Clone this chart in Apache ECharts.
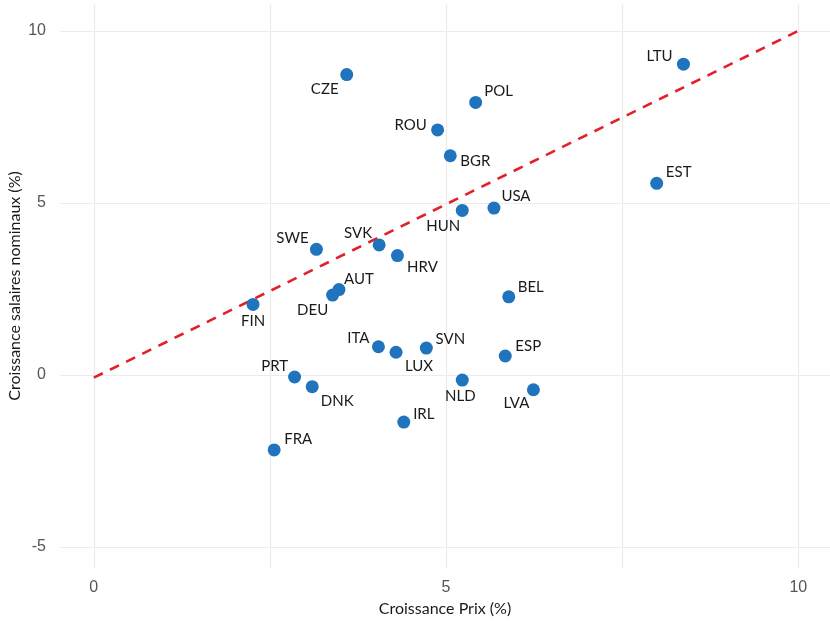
<!DOCTYPE html>
<html>
<head>
<meta charset="utf-8">
<script src="https://cdn.jsdelivr.net/npm/echarts@6/dist/echarts.min.js"></script>
<style>
html,body{margin:0;padding:0;background:#fff;}
#chart{width:830px;height:621px;}
</style>
</head>
<body>
<div id="chart"></div>
<script>
// ---- Data ----
const countries = ["LTU","EST","CZE","POL","ROU","BGR","USA","HUN","SWE","SVK","HRV","AUT","DEU","FIN","BEL","ITA","LUX","SVN","ESP","PRT","DNK","NLD","LVA","IRL","FRA"];
const prixGrowth = [8.37,7.99,3.59,5.42,4.88,5.06,5.68,5.23,3.16,4.05,4.31,3.48,3.39,2.26,5.89,4.04,4.29,4.72,5.84,2.85,3.10,5.23,6.24,4.40,2.56];
const salaireGrowth = [9.03,5.57,8.73,7.92,7.12,6.37,4.85,4.78,3.65,3.78,3.47,2.48,2.32,2.05,2.27,0.82,0.66,0.78,0.55,-0.06,-0.34,-0.15,-0.43,-1.37,-2.18];
const trendX = [0, 10];
const trendY = [-0.08, 10.0];
const xTicks = [0, 5, 10];
const xGrid = [0, 2.5, 5, 7.5, 10];
const yTicks = [-5, 0, 5, 10];

// ---- Label placement (style, pixels relative to point) ----
const labelOffsets = {
  LTU:[-24,-8], EST:[22,-11], CZE:[-22,15], POL:[23,-11], ROU:[-27,-5], BGR:[25,5],
  USA:[22,-12], HUN:[-19,16], SWE:[-24,-11], SVK:[-21,-12], HRV:[25,12], AUT:[20,-10],
  DEU:[-20,15], FIN:[0,17], BEL:[22,-10], ITA:[-20,-9], LUX:[23,14], SVN:[24,-9],
  ESP:[23,-10], PRT:[-20,-11], DNK:[25,15], NLD:[-2,16], LVA:[-17,13], IRL:[20,-8], FRA:[24,-11]
};

const pointData = countries.map((c, i) => ({
  value: [prixGrowth[i], salaireGrowth[i]],
  name: c
}));
const trendData = trendX.map((x, i) => [x, trendY[i]]);

const chart = echarts.init(document.getElementById('chart'), null, {renderer: 'canvas'});
const tickLabelStyle = { color: '#555555', fontFamily: 'Liberation Sans, Arial, sans-serif', fontSize: 16 };
const nameStyle = { color: '#1a1a1a', fontFamily: 'Lato, Open Sans, sans-serif', fontSize: 16 };

chart.setOption({
  animation: false,
  backgroundColor: '#ffffff',
  grid: { left: 60, right: 0, top: 4, bottom: 53, containLabel: false, outerBoundsMode: 'none' },
  xAxis: {
    type: 'value', min: -0.48, max: 10.45,
    name: 'Croissance Prix (%)', nameLocation: 'middle', nameGap: 33,
    nameMoveOverlap: false,
    nameTextStyle: nameStyle,
    axisLine: { show: false },
    axisTick: { show: false, customValues: xGrid },
    axisLabel: { customValues: xTicks, margin: 12, ...tickLabelStyle },
    splitLine: { show: true, lineStyle: { color: '#ebebeb', width: 1.2 } }
  },
  yAxis: {
    type: 'value', min: -5.61, max: 10.78,
    name: 'Croissance salaires nominaux (%)', nameLocation: 'middle', nameGap: 37,
    nameMoveOverlap: false,
    nameRotate: 90,
    nameTextStyle: nameStyle,
    axisLine: { show: false },
    axisTick: { show: false, customValues: yTicks },
    axisLabel: { customValues: yTicks, margin: 14, ...tickLabelStyle },
    splitLine: { show: true, lineStyle: { color: '#ebebeb', width: 1.2 } }
  },
  series: [
    {
      type: 'line',
      data: trendData,
      symbol: 'none',
      silent: true,
      z: 2,
      lineStyle: { color: '#e3202a', width: 2.6, type: [10, 8] }
    },
    {
      type: 'scatter',
      data: pointData,
      symbolSize: 13,
      z: 3,
      itemStyle: { color: '#1f74bd', opacity: 1 },
      label: {
        show: true,
        position: 'inside',
        formatter: p => p.name,
        color: '#1a1a1a',
        fontFamily: 'Lato, Open Sans, sans-serif',
        fontSize: 15
      },
      labelLayout: function (params) {
        const off = labelOffsets[countries[params.dataIndex]] || [0, 0];
        return { dx: off[0], dy: off[1], hideOverlap: false };
      }
    }
  ]
});
</script>
</body>
</html>
